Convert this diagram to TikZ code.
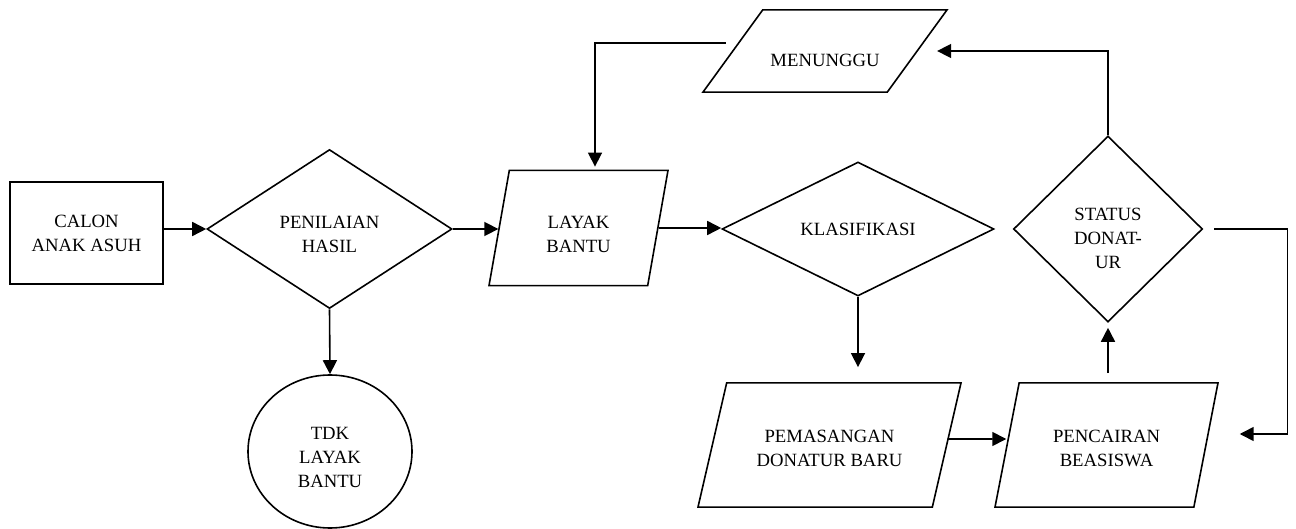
\documentclass[tikz,border=0pt]{standalone}
\usepackage{fontspec}
\setmainfont{Liberation Serif}
\usepackage{tikz}
\usetikzlibrary{shapes.geometric, arrows.meta, positioning, calc}

\begin{document}
\begin{tikzpicture}[
    x=1pt, y=-1pt,
    base/.style={draw, line width=1.6pt, inner sep=2pt, align=center, font=\fontsize{18.7}{24}\selectfont},
    proc/.style={base, rectangle, minimum width=153pt, minimum height=102pt},
    decision/.style={base, diamond, inner sep=0pt},
    data/.style={base, trapezium, trapezium stretches body},
    stop/.style={base, ellipse},
    arr/.style={-{Triangle[length=14pt, width=14pt]}, line width=1.6pt}
]
\useasboundingbox (0,0) rectangle (1296,529);

% Nodes
\node[proc] (calon) at (86.5, 233) {CALON\\ANAK ASUH};
\node[decision, minimum width=245pt, minimum height=159pt, shape aspect=1.5] (nilai) at (329.5, 229) {\rule{0pt}{24pt}PENILAIAN\\HASIL};
\node[stop, minimum width=164pt, minimum height=153pt] (tdk) at (330, 451.5) {\rule{0pt}{25pt}TDK\\LAYAK\\BANTU};
\node[data, trapezium left angle=80, trapezium right angle=100, minimum width=179pt, inner ysep=32.5pt] (layak) at (578.5, 228) {\rule{0pt}{26pt}LAYAK\\BANTU};
\node[decision, minimum width=272pt, minimum height=134pt, shape aspect=2] (klas) at (858, 229) {KLASIFIKASI};
\node[data, trapezium left angle=54, trapezium right angle=126, minimum width=244pt, inner ysep=25pt] (tunggu) at (825, 51) {\rule{0pt}{32pt}MENUNGGU};
\node[data, trapezium left angle=77, trapezium right angle=103, minimum width=263pt, inner ysep=40pt] (pasang) at (829.5, 445) {\rule{0pt}{20pt}PEMASANGAN\\DONATUR BARU};
\node[data, trapezium left angle=79, trapezium right angle=101, minimum width=223pt, inner ysep=40pt] (cair) at (1106.5, 445) {\rule{0pt}{20pt}PENCAIRAN\\BEASISWA};
\node[decision, minimum width=189pt, minimum height=186pt] (status) at (1108, 229) {\rule{0pt}{32pt}STATUS\\DONAT-\\UR};

% Connectors
\draw[arr] (calon.east |- nilai.west) -- (nilai.west);
\draw[arr] (nilai.east) -- (nilai.east -| layak.west);
\draw[arr] (nilai.south) -- (tdk.north);
\draw[arr] (layak.east) -- (layak.east -| klas.west);
\draw[arr, shorten >=15pt] (klas.south) -- (klas.south |- pasang.north);
\draw[arr] ([yshift=6pt]pasang.east) -- ([yshift=6pt]cair.west);
\draw[arr, shorten <=9pt, shorten >=5pt] (cair.north -| status.south) -- (status.south);
\draw[arr, shorten >=19pt] (status.north) |- (tunggu.east);
\draw[arr, shorten >=3pt] ([xshift=-6pt, yshift=8pt]tunggu.west) -| ([xshift=16.5pt]layak.north);
\draw[arr, shorten <=11pt, shorten >=33pt] (status.east) -- ++(84,0) |- ([yshift=11pt]cair.east);
\end{tikzpicture}
\end{document}
